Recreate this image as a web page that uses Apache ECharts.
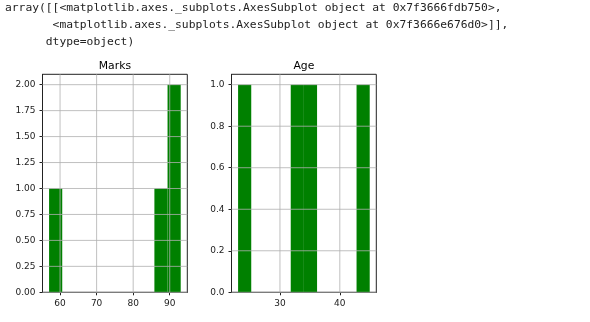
<!DOCTYPE html>
<html>
<head>
<meta charset="utf-8">
<script src="https://cdn.jsdelivr.net/npm/echarts@6/dist/echarts.min.js"></script>
<style>
html,body{margin:0;padding:0;background:#fff;}
#chart{width:590px;height:322px;}
</style>
</head>
<body>
<div id="chart"></div>
<script>
// Header text (printed repr)
const headerLines = [
  "array([[<matplotlib.axes._subplots.AxesSubplot object at 0x7f3666fdb750>,",
  "       <matplotlib.axes._subplots.AxesSubplot object at 0x7f3666e676d0>]],",
  "      dtype=object)"
];

// Panel titles
const panelTitles = ["Marks", "Age"];

// Marks histogram (non-empty bins): bin low edge, bin high edge, count
const marksBinLo = [57.0, 85.8, 89.4];
const marksBinHi = [60.6, 89.4, 93.0];
const marksCounts = [1, 1, 2];
const marksXTicks = [60, 70, 80, 90];
const marksYTicks = [0, 0.25, 0.5, 0.75, 1.0, 1.25, 1.5, 1.75, 2.0];
const marksXRange = [55.2, 94.8];
const marksYRange = [0, 2.1];

// Age histogram (non-empty bins)
const ageBinLo = [23.0, 31.8, 34.0, 42.8];
const ageBinHi = [25.2, 34.0, 36.2, 45.0];
const ageCounts = [1, 1, 1, 1];
const ageXTicks = [30, 40];
const ageYTicks = [0, 0.2, 0.4, 0.6, 0.8, 1.0];
const ageXRange = [21.9, 46.1];
const ageYRange = [0, 1.05];

const GREEN = '#008000';
const GRIDC = '#b0b0b0';
const INK = '#222';
const FONT = 'DejaVu Sans';

const chart = echarts.init(document.getElementById('chart'), null, {renderer: 'canvas'});

function barData(lo, hi, c) {
  return lo.map((v, i) => [v, hi[i], c[i]]);
}
function gridLineData(xt, yt, xr, yr) {
  const d = [];
  xt.forEach(v => d.push([v, yr[0], 1]));
  yt.forEach(v => d.push([xr[0], v, 0]));
  return d;
}
function renderBar(params, api) {
  const p1 = api.coord([api.value(0), api.value(2)]);
  const p2 = api.coord([api.value(1), 0]);
  return {
    type: 'rect',
    shape: {x: p1[0], y: p1[1], width: p2[0] - p1[0], height: p2[1] - p1[1]},
    style: {fill: GREEN, stroke: null}
  };
}
function renderGridLine(params, api) {
  const cs = params.coordSys;
  const p = api.coord([api.value(0), api.value(1)]);
  if (api.value(2) === 1) {
    return {type: 'line', shape: {x1: p[0], y1: cs.y, x2: p[0], y2: cs.y + cs.height},
      style: {stroke: GRIDC, lineWidth: 0.8}};
  }
  return {type: 'line', shape: {x1: cs.x, y1: p[1], x2: cs.x + cs.width, y2: p[1]},
    style: {stroke: GRIDC, lineWidth: 0.8}};
}

const grids = [
  {left: 42.5, top: 74.3, width: 144.8, height: 218},
  {left: 231.5, top: 74.3, width: 144.8, height: 218}
];

function xAxisCfg(idx, range, ticks) {
  return {
    type: 'value', gridIndex: idx, min: range[0], max: range[1],
    axisLine: {show: true, onZero: false, lineStyle: {color: INK, width: 1}},
    axisTick: {show: true, length: 3, customValues: ticks, lineStyle: {color: INK}},
    axisLabel: {show: true, customValues: ticks, margin: 7, color: INK, fontFamily: FONT, fontSize: 9},
    splitLine: {show: false}
  };
}
function yAxisCfg(idx, range, ticks, dec) {
  return {
    type: 'value', gridIndex: idx, min: range[0], max: range[1],
    axisLine: {show: true, onZero: false, lineStyle: {color: INK, width: 1}},
    axisTick: {show: true, length: 3, customValues: ticks, lineStyle: {color: INK}},
    axisLabel: {show: true, customValues: ticks, margin: 7, color: INK, fontFamily: FONT, fontSize: 9,
      formatter: v => Number(v).toFixed(dec)},
    splitLine: {show: false}
  };
}

const option = {
  animation: false,
  backgroundColor: '#fff',
  grid: grids.map(g => Object.assign({show: true, borderColor: INK, borderWidth: 1, backgroundColor: 'transparent'}, g)),
  xAxis: [xAxisCfg(0, marksXRange, marksXTicks), xAxisCfg(1, ageXRange, ageXTicks)],
  yAxis: [yAxisCfg(0, marksYRange, marksYTicks, 2), yAxisCfg(1, ageYRange, ageYTicks, 1)],
  graphic: [
    ...headerLines.map((t, i) => ({
      type: 'text', left: 5, top: 3 + i * 16.6,
      style: {text: t, font: '11.3px "DejaVu Sans Mono"', fill: '#222'}
    })),
    ...panelTitles.map((t, i) => ({
      type: 'text', x: grids[i].left + grids[i].width / 2, y: 66,
      style: {text: t, font: '10.8px "DejaVu Sans"', fill: '#000', align: 'center', verticalAlign: 'middle'}
    }))
  ],
  series: [
    {type: 'custom', xAxisIndex: 0, yAxisIndex: 0, z: 1, renderItem: renderBar,
      data: barData(marksBinLo, marksBinHi, marksCounts), encode: {x: [0, 1], y: 2}, silent: true},
    {type: 'custom', xAxisIndex: 0, yAxisIndex: 0, z: 2, renderItem: renderGridLine,
      data: gridLineData(marksXTicks, marksYTicks, marksXRange, marksYRange), encode: {x: 0, y: 1}, silent: true},
    {type: 'custom', xAxisIndex: 1, yAxisIndex: 1, z: 1, renderItem: renderBar,
      data: barData(ageBinLo, ageBinHi, ageCounts), encode: {x: [0, 1], y: 2}, silent: true},
    {type: 'custom', xAxisIndex: 1, yAxisIndex: 1, z: 2, renderItem: renderGridLine,
      data: gridLineData(ageXTicks, ageYTicks, ageXRange, ageYRange), encode: {x: 0, y: 1}, silent: true}
  ]
};
chart.setOption(option);
</script>
</body>
</html>
